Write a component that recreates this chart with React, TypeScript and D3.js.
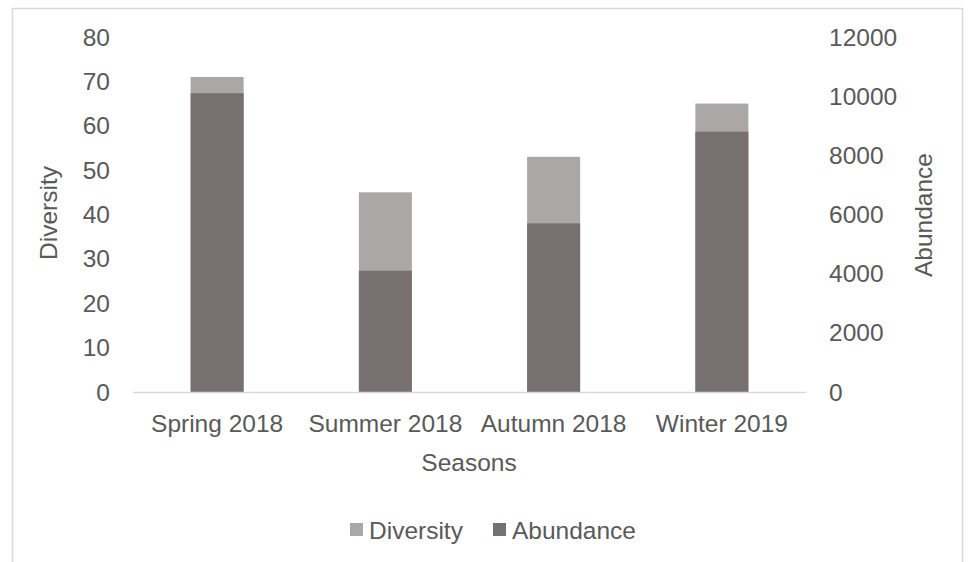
import React from "react";
import * as d3 from "d3";

const categories = ["Spring 2018", "Summer 2018", "Autumn 2018", "Winter 2019"];
const diversity = [71, 45, 53, 65];
const abundance = [10100, 4100, 5700, 8800];
const leftTicks = [0, 10, 20, 30, 40, 50, 60, 70, 80];
const rightTicks = [0, 2000, 4000, 6000, 8000, 10000, 12000];

const W = 970;
const H = 562;
const FONT = "'Liberation Sans', Arial, sans-serif";
const TEXT = "#595959";
const C_DIV = "#aba7a6";
const C_ABU = "#767070";
const FS = 24.5;

export default function App() {
  const x = d3.scaleBand<string>().domain(categories).range([133, 806]).paddingInner(0.685).paddingOuter(0.3425);
  const yL = d3.scaleLinear().domain([0, 80]).range([392, 37]);
  const yR = d3.scaleLinear().domain([0, 12000]).range([392, 37]);

  return (
    <svg width={W} height={H} style={{ position: "absolute", left: 0, top: 0 }} fontFamily={FONT}>
      <rect x={0} y={0} width={W} height={H} fill="#fff" />
      <rect x={12.5} y={8.5} width={950} height={570} fill="#fff" stroke="#d9d9d9" strokeWidth={1.5} />
      {categories.map((c, i) => (
        <rect key={"d" + c} x={x(c)} y={yL(diversity[i])} width={x.bandwidth()} height={yL(0) - yL(diversity[i])} fill={C_DIV} />
      ))}
      {categories.map((c, i) => (
        <rect key={"a" + c} x={x(c)} y={yR(abundance[i])} width={x.bandwidth()} height={yR(0) - yR(abundance[i])} fill={C_ABU} />
      ))}
      <line x1={133} x2={806} y1={392.5} y2={392.5} stroke="#d9d9d9" strokeWidth={1.5} />
      {leftTicks.map((t) => (
        <text key={"l" + t} x={110} y={yL(t)} dy="0.35em" textAnchor="end" fontSize={FS} fill={TEXT}>{t}</text>
      ))}
      {rightTicks.map((t) => (
        <text key={"r" + t} x={829} y={yR(t)} dy="0.35em" textAnchor="start" fontSize={FS} fill={TEXT}>{t}</text>
      ))}
      {categories.map((c) => (
        <text key={"c" + c} x={(x(c) as number) + x.bandwidth() / 2} y={423} dy="0.35em" textAnchor="middle" fontSize={FS} fill={TEXT}>{c}</text>
      ))}
      <text x={469} y={462} dy="0.35em" textAnchor="middle" fontSize={FS} fill={TEXT}>Seasons</text>
      <text transform="translate(48,213) rotate(-90)" dy="0.35em" textAnchor="middle" fontSize={FS} fill={TEXT}>Diversity</text>
      <text transform="translate(923,215) rotate(-90)" dy="0.35em" textAnchor="middle" fontSize={FS} fill={TEXT}>Abundance</text>
      <rect x={350} y={523} width={13} height={13} fill={C_DIV} />
      <text x={369} y={530} dy="0.35em" fontSize={FS} fill={TEXT}>Diversity</text>
      <rect x={493} y={523} width={13} height={13} fill={C_ABU} />
      <text x={512} y={530} dy="0.35em" fontSize={FS} fill={TEXT}>Abundance</text>
    </svg>
  );
}
